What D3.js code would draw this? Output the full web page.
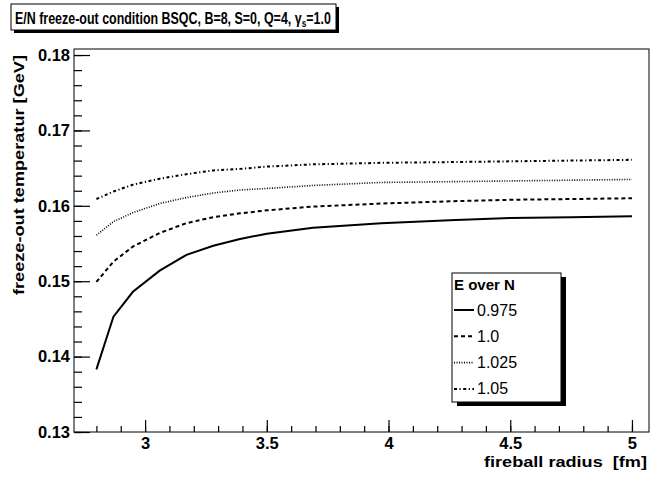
<!DOCTYPE html>
<html>
<head>
<meta charset="utf-8">
<script src="https://cdn.jsdelivr.net/npm/d3@7"></script>
<style>
	body{margin:0;background:#fff;}
	svg{display:block;font-family:"Liberation Sans",Helvetica,Arial,sans-serif;}
</style>
</head>
<body>
<div id="chart"></div>
<script>
// fireball radius [fm], shared by all curves
let radius = [2.8, 2.87, 2.95, 3.06, 3.17, 3.28, 3.39, 3.5, 3.69, 3.97, 4.25, 4.5, 4.75, 5.0];
// freeze-out temperature [GeV] per E/N value
let temp0975 = [0.1383, 0.1453, 0.1486, 0.1514, 0.1535, 0.1547, 0.1556, 0.1563, 0.1571, 0.1577, 0.1581, 0.1584, 0.1585, 0.1586];
let temp100  = [0.1499, 0.1526, 0.1546, 0.1564, 0.1577, 0.1585, 0.1590, 0.1594, 0.1599, 0.1603, 0.1606, 0.1608, 0.1609, 0.1610];
let temp1025 = [0.1561, 0.1579, 0.1591, 0.1603, 0.1611, 0.1617, 0.1621, 0.1623, 0.1627, 0.1631, 0.1632, 0.1633, 0.1634, 0.1635];
let temp105  = [0.1609, 0.1619, 0.1628, 0.1636, 0.1642, 0.1647, 0.1649, 0.1652, 0.1655, 0.1657, 0.1658, 0.1659, 0.1660, 0.1661];
let seriesNames = ["0.975", "1.0", "1.025", "1.05"];
let xTicks = [3, 3.5, 4, 4.5, 5];
let yTicks = [0.13, 0.14, 0.15, 0.16, 0.17, 0.18];

let series = [
	{name: seriesNames[0], values: temp0975, dash: null, width: 2},
	{name: seriesNames[1], values: temp100, dash: "4,3", width: 2},
	{name: seriesNames[2], values: temp1025, dash: "1,1.5", width: 1.6},
	{name: seriesNames[3], values: temp105, dash: "3,2.5,1.2,2.5", width: 2}
];

let W = 651, H = 479,
	frame = {left: 74, top: 49, right: 649, bottom: 432};

let svg = d3.select("#chart").append("svg").attr("width", W).attr("height", H);

let x = d3.scaleLinear().domain([2.708, 5.07]).range([frame.left, frame.right]);
let y = d3.scaleLinear().domain([0.13, 0.1808]).range([frame.bottom, frame.top]);

// frame
svg.append("rect")
	.attr("x", frame.left).attr("y", frame.top)
	.attr("width", frame.right - frame.left).attr("height", frame.bottom - frame.top)
	.attr("fill", "none").attr("stroke", "#000").attr("stroke-width", 1);

// minor ticks
let yMinor = d3.range(0.13, 0.1805, 0.002);
let xMinor = d3.range(2.8, 5.05, 0.1);

svg.append("g").attr("transform", "translate(" + frame.left + ",0)")
	.call(d3.axisLeft(y).tickValues(yMinor).tickSizeInner(-8).tickSizeOuter(0).tickFormat(""))
	.call(g => g.select(".domain").remove());
svg.append("g").attr("transform", "translate(0," + frame.bottom + ")")
	.call(d3.axisBottom(x).tickValues(xMinor).tickSizeInner(-6).tickSizeOuter(0).tickFormat(""))
	.call(g => g.select(".domain").remove());

// major ticks with labels
let yAxisG = svg.append("g").attr("transform", "translate(" + frame.left + ",0)")
	.call(d3.axisLeft(y).tickValues(yTicks).tickSizeInner(-16).tickSizeOuter(0).tickPadding(4).tickFormat(d3.format(".2f")));
yAxisG.select(".domain").remove();
yAxisG.selectAll("text").style("font-size", "16.5px").style("font-weight", "bold").attr("fill", "#000");

let xAxisG = svg.append("g").attr("transform", "translate(0," + frame.bottom + ")")
	.call(d3.axisBottom(x).tickValues(xTicks).tickSizeInner(-12).tickSizeOuter(0).tickPadding(5).tickFormat(d => String(d)));
xAxisG.select(".domain").remove();
xAxisG.selectAll("text").style("font-size", "16.5px").style("font-weight", "bold").attr("fill", "#000");
svg.selectAll(".tick line").attr("stroke", "#000").attr("stroke-width", 1.2);

// axis titles
svg.append("text")
	.attr("transform", "translate(24," + 55 + ") rotate(-90)")
	.attr("text-anchor", "end")
	.attr("textLength", 240).attr("lengthAdjust", "spacingAndGlyphs")
	.style("font-size", "15px").style("font-weight", "bold")
	.text("freeze-out temperatur [GeV]");

svg.append("text")
	.attr("x", 647).attr("y", 467)
	.attr("text-anchor", "end")
	.attr("textLength", 163).attr("lengthAdjust", "spacingAndGlyphs")
	.style("font-size", "15.5px").style("font-weight", "bold")
	.attr("xml:space", "preserve")
	.text("fireball radius  [fm]");

// curves
let line = d3.line().x(d => x(d[0])).y(d => y(d[1]));
series.forEach(function(s){
	svg.append("path")
		.datum(radius.map((r, i) => [r, s.values[i]]))
		.attr("d", line)
		.attr("fill", "none")
		.attr("stroke", "#000")
		.attr("stroke-width", s.width)
		.attr("stroke-dasharray", s.dash);
});

// legend
let lg = {x: 452, y: 273, w: 109, h: 129};
svg.append("rect").attr("x", lg.x + 5).attr("y", lg.y + 4).attr("width", lg.w).attr("height", lg.h).attr("fill", "#000");
svg.append("rect").attr("x", lg.x).attr("y", lg.y).attr("width", lg.w).attr("height", lg.h)
	.attr("fill", "#fff").attr("stroke", "#000").attr("stroke-width", 1);
svg.append("text").attr("x", lg.x + 2).attr("y", lg.y + 17)
	.style("font-size", "15px").style("font-weight", "bold").text("E over N");
series.forEach(function(s, i){
	let yy = lg.y + 37 + i * 26.3;
	svg.append("line")
		.attr("x1", lg.x + 2).attr("x2", lg.x + 22)
		.attr("y1", yy).attr("y2", yy)
		.attr("stroke", "#000").attr("stroke-width", s.width)
		.attr("stroke-dasharray", s.dash);
	svg.append("text").attr("x", lg.x + 25).attr("y", yy + 5.5)
		.style("font-size", "16px").text(s.name);
});

// title box
let tb = {x: 11, y: 4, w: 325, h: 26};
svg.append("rect").attr("x", tb.x + 3).attr("y", tb.y + 3).attr("width", tb.w).attr("height", tb.h).attr("fill", "#000");
svg.append("rect").attr("x", tb.x).attr("y", tb.y).attr("width", tb.w).attr("height", tb.h)
	.attr("fill", "#fff").attr("stroke", "#000").attr("stroke-width", 1);
// title drawn at natural size, then squeezed horizontally to fit the box
let titleText = svg.append("text").attr("x", 0).attr("y", 0)
	.style("font-size", "16.5px").style("font-weight", "bold");
titleText.append("tspan").text("E/N freeze-out condition BSQC, B=8, S=0, Q=4, \u03b3");
titleText.append("tspan").attr("dy", 3).style("font-size", "11px").text("s");
titleText.append("tspan").attr("dy", -3).text("=1.0");
let natW = titleText.node().getBBox().width,
	sx = 316 / natW;
titleText.attr("transform", "translate(" + (tb.x + 4) + "," + (tb.y + 19.5) + ") scale(" + sx + ",1)");
</script>
</body>
</html>
